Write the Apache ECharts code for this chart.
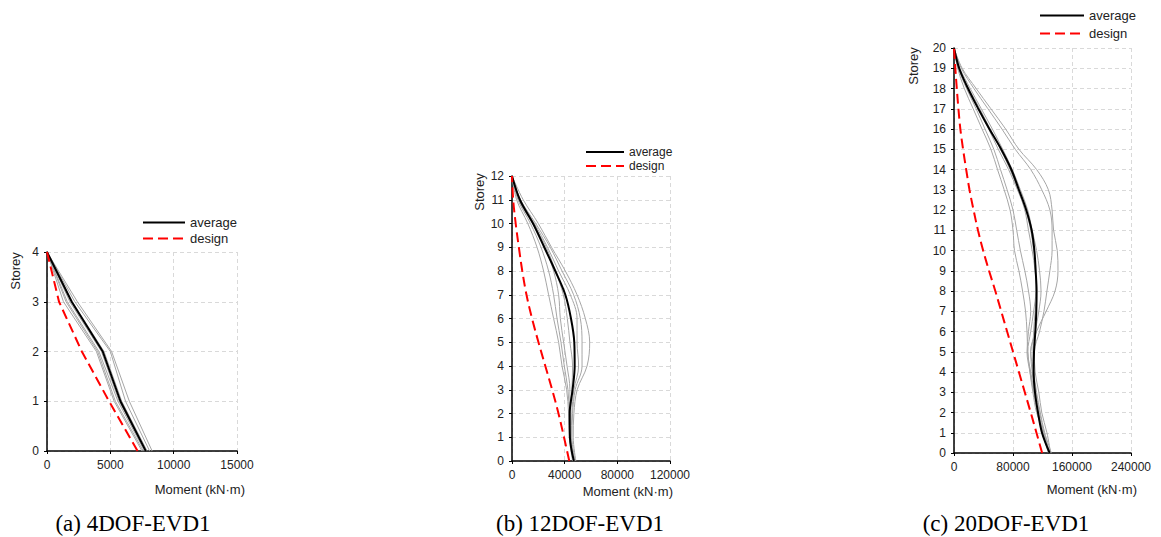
<!DOCTYPE html>
<html>
<head>
<meta charset="utf-8">
<title>Storey moment profiles</title>
<script src="https://cdn.jsdelivr.net/npm/echarts@6/dist/echarts.min.js"></script>
<style>
  html, body { margin: 0; padding: 0; background: #fff; }
  #chart { width: 1161px; height: 537px; }
</style>
</head>
<body>
<div id="chart"></div>
<script>
// values listed from storey 0 (base) up to the roof
// (a) 4DOF-EVD1
const avg4 = [7800, 5800, 4400, 1950, 0];
const design4 = [7150, 4900, 2750, 950, 0];
const records4 = [
  [8300, 6500, 5100, 2400, 0],
  [8100, 6200, 5000, 2200, 0],
  [7900, 5900, 4500, 2000, 0],
  [7800, 5700, 4300, 1800, 0],
  [7600, 5400, 4000, 1500, 0],
  [7500, 5300, 3900, 1300, 0],
  [7700, 5600, 4100, 1600, 0]
];

// (b) 12DOF-EVD1
const avg12 = [47000, 44000, 43800, 46000, 47600, 47300, 44800, 40500, 32900, 24500, 16000, 6000, 0];
const design12 = [43500, 39500, 35300, 30500, 25300, 20100, 15200, 11000, 7800, 5200, 2800, 900, 0];
const records12 = [
  [48500, 46500, 47000, 49500, 57000, 59000, 55700, 49400, 40500, 30000, 20000, 8500, 0],
  [48000, 45500, 46000, 48000, 53200, 53200, 51900, 46800, 38000, 29000, 18000, 6500, 0],
  [47500, 45000, 45500, 47000, 50600, 49400, 49400, 44300, 35400, 27000, 17000, 6000, 0],
  [47000, 44500, 44000, 44000, 41800, 39200, 36700, 35400, 31600, 25000, 15500, 5000, 0],
  [46500, 44000, 43500, 42500, 39700, 37200, 34200, 31600, 27800, 22000, 14000, 4500, 0],
  [46000, 43500, 43000, 41500, 38000, 35400, 31600, 27800, 24000, 19000, 12000, 3500, 0],
  [47000, 44500, 44500, 45500, 46000, 44000, 42000, 39000, 33000, 26000, 16000, 5500, 0]
];

// (c) 20DOF-EVD1
const avg20 = [129700, 119300, 113900, 109800, 108000, 108500, 110300, 111600, 112000, 110700,
  109000, 105300, 98000, 88000, 77700, 64000, 48000, 33000, 19000, 7000, 0];
const design20 = [119500, 111800, 104000, 96000, 88000, 80000, 72000, 64000, 56000, 47500,
  39500, 32500, 26500, 21000, 16500, 12300, 8600, 6000, 3800, 1800, 0];
const records20 = [
  [132000, 123000, 117000, 112000, 108000, 104000, 112000, 125000, 137000, 141000, 140000, 135000, 133000, 128000, 112000, 88000, 70000, 50000, 30000, 11000, 0],
  [131000, 126000, 119000, 115000, 110000, 109000, 116000, 122000, 126000, 130000, 133000, 133000, 130000, 119000, 104000, 83000, 65000, 46000, 27000, 10000, 0],
  [130000, 122000, 116000, 111000, 106000, 104000, 110000, 115000, 118000, 116000, 112000, 106000, 100000, 90000, 79000, 66000, 52000, 37000, 22000, 8000, 0],
  [129000, 121000, 114000, 109000, 104000, 100000, 104000, 108000, 111000, 111000, 108000, 104000, 97000, 86000, 74000, 60000, 47000, 33000, 19000, 7000, 0],
  [128000, 120000, 113000, 108000, 103000, 99000, 101000, 104000, 101000, 96000, 90000, 85000, 80000, 72000, 63000, 54000, 42000, 30000, 17000, 6000, 0],
  [129000, 122000, 112000, 107000, 103000, 100000, 99000, 97000, 93000, 88000, 82000, 80000, 76000, 68000, 59000, 50000, 38000, 26000, 14000, 5000, 0],
  [130000, 121000, 114000, 110000, 107000, 107000, 108000, 110000, 112000, 110000, 106000, 101000, 96000, 87000, 76000, 63000, 49000, 35000, 20000, 7000, 0]
];

const xMax = [15000, 120000, 240000];
const xStep = [5000, 40000, 80000];
const storeyMax = [4, 12, 20];
const captions = ["(a) 4DOF-EVD1", "(b) 12DOF-EVD1", "(c) 20DOF-EVD1"];

const panels = [
  { avg: avg4, design: design4, records: records4, smooth: false },
  { avg: avg12, design: design12, records: records12, smooth: 0.35 },
  { avg: avg20, design: design20, records: records20, smooth: 0.35 }
];

// layout of the three plot boxes
const grids = [
  { left: 47, top: 252, width: 190, height: 199 },
  { left: 512, top: 176, width: 158, height: 285 },
  { left: 954, top: 48, width: 177, height: 405 }
];
const nameShift = [
  { gap: 8, pad: 32 },
  { gap: 3, pad: 24 },
  { gap: 6, pad: 30 }
];
const legendPos = [
  { left: 142, top: 216, w: 42, h: 14, gap: 3, font: 13 },
  { left: 585, top: 146, w: 38, h: 12, gap: 2, font: 12 },
  { left: 1039, top: 9, w: 44, h: 16, gap: 5, font: 13 }
];
const storeyLabelPos = [[15, 271], [479, 192], [913, 66]];
const captionX = [133, 580, 1006];

const toPoints = (vals) => vals.map((v, i) => [v, i]);
const gridLine = { show: true, lineStyle: { color: "#d9d9d9", type: [4, 3], width: 1 } };

const chart = echarts.init(document.getElementById("chart"), null, { renderer: "svg" });

const xAxes = [];
const yAxes = [];
const series = [];
const graphics = [];

panels.forEach((p, k) => {
  xAxes.push({
    gridIndex: k,
    type: "value",
    min: 0,
    max: xMax[k],
    interval: xStep[k],
    name: "Moment (kN·m)",
    nameLocation: "end",
    nameGap: nameShift[k].gap,
    nameTextStyle: {
      fontFamily: "Liberation Sans, Arial",
      fontSize: 13,
      color: "#222",
      align: "right",
      verticalAlign: "top",
      padding: [nameShift[k].pad, 0, 0, 0]
    },
    axisLine: { show: true, onZero: false, lineStyle: { color: "#000", width: 1.5 } },
    axisTick: { show: true, length: 3, lineStyle: { color: "#000" } },
    axisLabel: {
      fontFamily: "Liberation Sans, Arial",
      fontSize: 12,
      color: "#222",
      margin: 8,
      formatter: (v) => String(v)
    },
    splitLine: gridLine
  });
  yAxes.push({
    gridIndex: k,
    type: "value",
    min: 0,
    max: storeyMax[k],
    interval: 1,
    axisLine: { show: true, onZero: false, lineStyle: { color: "#000", width: 1.5 } },
    axisTick: { show: true, length: 3, lineStyle: { color: "#000" } },
    axisLabel: { fontFamily: "Liberation Sans, Arial", fontSize: 12, color: "#222", margin: 8 },
    splitLine: gridLine
  });

  p.records.forEach((r) => {
    series.push({
      name: "record",
      type: "line",
      xAxisIndex: k,
      yAxisIndex: k,
      data: toPoints(r),
      smooth: p.smooth,
      symbol: "none",
      silent: true,
      lineStyle: { color: "#a6a6a6", width: 1 },
      z: 2
    });
  });
  series.push({
    name: "average",
    type: "line",
    xAxisIndex: k,
    yAxisIndex: k,
    data: toPoints(p.avg),
    smooth: p.smooth,
    symbol: "none",
    lineStyle: { color: "#000", width: 2 },
    itemStyle: { color: "#000" },
    z: 3
  });
  series.push({
    name: "design",
    type: "line",
    xAxisIndex: k,
    yAxisIndex: k,
    data: toPoints(p.design),
    smooth: p.smooth,
    symbol: "none",
    lineStyle: { color: "#ff0000", width: 2, type: [10, 5] },
    itemStyle: { color: "#ff0000" },
    z: 4
  });

  graphics.push({
    type: "text",
    x: storeyLabelPos[k][0],
    y: storeyLabelPos[k][1],
    rotation: Math.PI / 2,
    style: {
      text: "Storey",
      fontFamily: "Liberation Sans, Arial",
      fontSize: 13,
      fill: "#222",
      textAlign: "center",
      textVerticalAlign: "middle"
    }
  });
  graphics.push({
    type: "text",
    x: captionX[k],
    y: 523,
    style: {
      text: captions[k],
      fontFamily: "Liberation Serif, Times New Roman",
      fontSize: 23,
      fill: "#000",
      textAlign: "center",
      textVerticalAlign: "middle"
    }
  });
});

const option = {
  backgroundColor: "#fff",
  animation: false,
  grid: grids.map((g) => ({ ...g, containLabel: false })),
  xAxis: xAxes,
  yAxis: yAxes,
  legend: legendPos.map((l) => ({
    orient: "vertical",
    left: l.left,
    top: l.top,
    padding: 0,
    itemWidth: l.w,
    itemHeight: l.h,
    itemGap: l.gap,
    data: ["average", "design"],
    selectedMode: false,
    itemStyle: { opacity: 0 },
    textStyle: { fontFamily: "Liberation Sans, Arial", fontSize: l.font, color: "#222" }
  })),
  series: series,
  graphic: graphics
};

chart.setOption(option);
</script>
</body>
</html>
